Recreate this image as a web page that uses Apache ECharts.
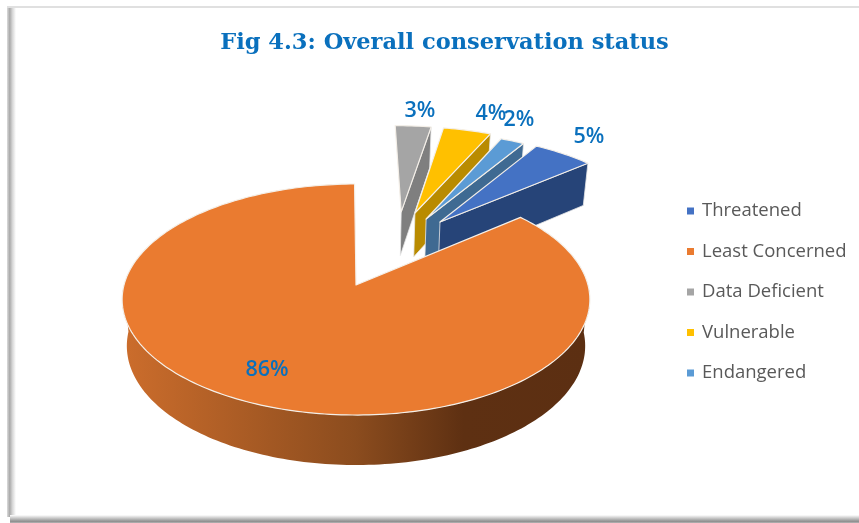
<!DOCTYPE html>
<html>
<head>
<meta charset="utf-8">
<style>html,body{margin:0;padding:0;background:#fff}#c{width:859px;height:523px}</style>
<script src="https://cdn.jsdelivr.net/npm/echarts@6/dist/echarts.min.js"></script>
</head>
<body>
<div id="c"></div>
<script>
// Data, in clockwise pie order beginning at the first slice
const categories = ['Threatened', 'Least Concerned', 'Data Deficient', 'Vulnerable', 'Endangered'];
const percents = [5, 86, 3, 4, 2];
const titleText = 'Fig 4.3: Overall conservation status';

// Styling
const topColors = ['#4472c4', '#ea7b30', '#a5a5a5', '#ffc000', '#5b9bd5'];
const wallColors = ['#264478', null, '#7f7f7f', '#b98b00', '#3f6a92'];
const explodeU = [0.389, 0, 0.212, 0.276, 0.326];
const explodeV = [0.595, 0, 0.70, 0.688, 0.626];
const labelX = [589, 267, 420, 491, 519];
const labelY = [137, 370, 111, 114, 120];
const drawOrder = [3, 5, 0, 1, 2];

// Projection of the tilted disc
const firstAngle = 32, cx = 356, cy = 285, rx = 232, ry = 113.7, persp = 0.1256, depth = 46, shrink = 0.98;
function upper(u, v) { const w = 1 + persp * v; return [cx + rx * u / w, cy - ry * v / w, w]; }
function lower(p) { return [cx + (p[0] - cx) * shrink, cy + (p[1] - cy) * shrink + depth / p[2]]; }

const total = percents.reduce((a, b) => a + b, 0);
function startOf(i) {
  let s = 0;
  for (let k = 0; k < i; k++) s += percents[k];
  return firstAngle + s / total * 360;
}

function makeRender(i) {
  return function (params, api) {
    const value = api.value(0);
    const a0 = startOf(i) * Math.PI / 180, a1 = a0 + value / total * 2 * Math.PI;
    const ou = explodeU[i], ov = explodeV[i];
    const apex = upper(ou, ov);
    const steps = Math.max(8, Math.round(value * 3));
    const arc = [];
    for (let k = 0; k <= steps; k++) {
      const a = a0 + (a1 - a0) * k / steps;
      arc.push({ a, p: upper(ou + Math.sin(a), ov + Math.cos(a)) });
    }
    const xy = p => [p[0], p[1]];
    const children = [];
    // outer wall, front-facing part
    const front = arc.filter(o => Math.cos(o.a) < 0.0);
    if (front.length > 1) {
      const pts = front.map(o => xy(o.p)).concat(front.slice().reverse().map(o => lower(o.p)));
      children.push({
        type: 'polygon', shape: { points: pts },
        style: { fill: { type: 'linear', x: 0, y: 0, x2: 1, y2: 0, colorStops: [
          { offset: 0, color: '#cc6d2c' }, { offset: 0.5, color: '#8b4c1e' },
          { offset: 0.73, color: '#5e3012' }, { offset: 1, color: '#5c2f12' }] } }
      });
    }
    // cut faces that look towards the viewer
    if (Math.sin(a1) > 1e-3 && wallColors[i]) {
      const e = arc[arc.length - 1].p;
      children.push({
        type: 'polygon', shape: { points: [xy(apex), xy(e), lower(e), lower(apex)] },
        style: { fill: wallColors[i], stroke: '#e8e8e8', lineWidth: 0.8 }
      });
    }
    // top surface
    children.push({
      type: 'polygon', shape: { points: [xy(apex)].concat(arc.map(o => xy(o.p))) },
      style: { fill: topColors[i], stroke: '#f4efe8', lineWidth: 1.2, lineJoin: 'round' }
    });
    // value label
    children.push({
      type: 'text', z2: 10,
      style: { text: value + '%', x: labelX[i], y: labelY[i], align: 'center', verticalAlign: 'middle',
        fill: '#0a70bd', font: '600 21.5px "Open Sans", sans-serif' }
    });
    return { type: 'group', children };
  };
}

const chartSeries = categories.map((name, i) => ({
  type: 'custom', name, coordinateSystem: 'none', silent: true, animation: false,
  z: 2 + drawOrder[i], clip: false,
  itemStyle: { color: topColors[i] },
  data: [[percents[i]]],
  renderItem: makeRender(i)
}));

const chart = echarts.init(document.getElementById('c'), null, { renderer: 'canvas' });
chart.setOption({
  animation: false,
  backgroundColor: '#ffffff',
  title: {
    text: titleText, left: 439.5, top: 27, textAlign: 'center',
    textStyle: { color: '#0a70bd', fontFamily: '"DejaVu Serif", serif', fontWeight: 'bold', fontSize: 22.5 }
  },
  legend: {
    data: categories.slice(), orient: 'vertical', left: 682, top: 196, selectedMode: false,
    icon: 'rect', itemWidth: 7, itemHeight: 7, itemGap: 20.5,
    textStyle: { color: '#595959', fontFamily: '"Open Sans", sans-serif', fontSize: 18.5, padding: [0, 0, 0, 3], lineHeight: 20 }
  },
  graphic: [
    { type: 'rect', silent: true, z: 0, shape: { x: 7, y: 8, width: 9, height: 509 },
      style: { fill: { type: 'linear', x: 0, y: 0, x2: 1, y2: 0, colorStops: [
        { offset: 0, color: '#dcdcdc' }, { offset: 0.3, color: '#a9a9a9' }, { offset: 0.6, color: '#d6d6d6' }, { offset: 1, color: '#ffffff' }] } } },
    { type: 'rect', silent: true, z: 0, shape: { x: 10, y: 515, width: 849, height: 8 },
      style: { fill: { type: 'linear', x: 0, y: 0, x2: 0, y2: 1, colorStops: [
        { offset: 0, color: '#ffffff' }, { offset: 0.8, color: '#8f8f8f' }, { offset: 1, color: '#b5b5b5' }] } } },
    { type: 'rect', silent: true, z: 0, shape: { x: 7, y: 6, width: 852, height: 2 }, style: { fill: '#e0e0e0' } }
  ],
  series: chartSeries
});
</script>
</body>
</html>
